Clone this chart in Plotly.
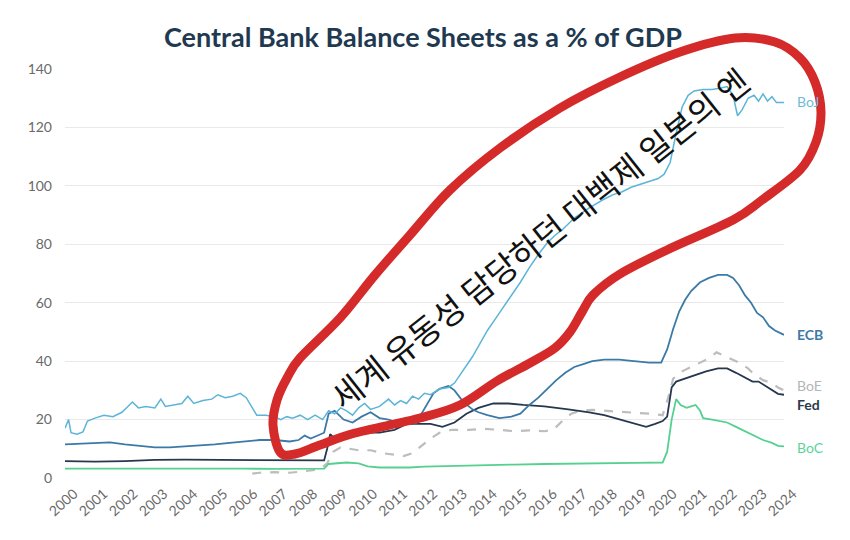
import plotly.graph_objects as go

# ---------------- data ----------------
boj_x = [2000.0, 2000.12, 2000.2, 2000.4, 2000.6, 2000.75, 2001.0, 2001.3, 2001.6, 2001.9, 2002.1, 2002.25,
         2002.45, 2002.7, 2003.0, 2003.2, 2003.35, 2003.6, 2003.9, 2004.1, 2004.3, 2004.6, 2004.9, 2005.1,
         2005.35, 2005.6, 2005.85, 2006.05, 2006.25, 2006.4, 2006.7, 2007.0, 2007.2, 2007.4, 2007.6, 2007.85,
         2008.1, 2008.35, 2008.6, 2008.8, 2009.0, 2009.2, 2009.4, 2009.6, 2009.8, 2010.0, 2010.2, 2010.5,
         2010.8, 2011.0, 2011.2, 2011.4, 2011.6, 2011.8, 2012.0, 2012.2, 2012.5, 2012.8, 2013.0, 2013.3,
         2013.6, 2013.85, 2014.1, 2014.4, 2014.7, 2014.95, 2015.2, 2015.5, 2015.8, 2016.1, 2016.35, 2016.6,
         2017.0, 2017.5, 2018.0, 2018.3, 2018.6, 2018.9, 2019.2, 2019.5, 2019.8, 2020.0, 2020.2,
         2020.4, 2020.6, 2020.8, 2021.0, 2021.3, 2021.6, 2021.9, 2022.1, 2022.3, 2022.45, 2022.6, 2022.8,
         2023.0, 2023.15, 2023.3, 2023.45, 2023.6, 2023.75, 2024.0]
boj_y = [17, 20, 15.5, 15, 15.8, 19.5, 20.5, 21.5, 21, 22.5, 24.5, 26,
         24, 24.5, 24, 27, 24.5, 25, 25.5, 28, 25.5, 26.5, 27, 28.5,
         27.5, 28, 29, 27.5, 24, 21.5, 21.5, 21, 20, 21, 20.5, 21.5,
         20, 21.5, 20, 23, 22, 24, 23, 21.5, 24, 25.5, 23.5, 24.5,
         27, 25, 26.5, 25.5, 28, 27, 29, 28.5, 30.5, 31, 32.5, 37,
         41.5, 46, 50.5, 55, 59.5, 63, 67, 72, 76.5, 80.5, 83, 85,
         89, 92.5, 95.5, 97, 98, 99.5, 100.5, 101.5, 102.5, 104, 108,
         118, 127, 131, 132.5, 133, 133, 133.5, 134, 131, 124, 126, 130,
         131, 129, 131.5, 129, 130.5, 128.5, 128.5]

ecb_x = [2000.0, 2000.5, 2001.0, 2001.5, 2002.0, 2002.5, 2003.0, 2003.5, 2004.0, 2004.5, 2005.0, 2005.5,
         2006.0, 2006.5, 2007.0, 2007.5, 2007.8, 2008.0, 2008.2, 2008.5, 2008.65, 2008.8, 2009.0, 2009.3,
         2009.6, 2009.9, 2010.2, 2010.5, 2010.8, 2011.1, 2011.4, 2011.7, 2011.9, 2012.1, 2012.3, 2012.5,
         2012.8, 2013.0, 2013.3, 2013.6, 2013.8, 2014.1, 2014.5, 2014.9, 2015.2, 2015.5, 2015.8, 2016.1,
         2016.4, 2016.7, 2017.0, 2017.3, 2017.6, 2018.0, 2018.5, 2019.0, 2019.5, 2019.9, 2020.1, 2020.3,
         2020.5, 2020.7, 2020.9, 2021.2, 2021.5, 2021.8, 2022.1, 2022.3, 2022.5, 2022.7, 2022.9, 2023.1,
         2023.3, 2023.5, 2023.7, 2024.0]
ecb_y = [11.5, 11.8, 12, 12.2, 11.5, 11, 10.5, 10.5, 10.8, 11, 11.5, 12,
         12.5, 13, 13, 12.5, 13, 14.5, 13.5, 15, 15.5, 22, 23, 20,
         19, 21, 22.5, 20.5, 20, 19, 19.5, 18.5, 22, 26, 29, 30.5,
         31.5, 30, 26, 23.5, 22.5, 21.5, 20.5, 21, 22, 25, 27.5, 30.5,
         33.5, 36, 38, 39, 40, 40.5, 40.5, 40, 39.5, 39.5, 44, 51,
         57, 61, 64, 67, 68.5, 69.5, 69.5, 68.5, 66, 62.5, 60, 56.5,
         55, 52, 50.5, 49]

fed_x = [2000, 2001, 2002, 2003, 2004, 2005, 2006, 2007, 2008.0, 2008.65, 2008.75, 2008.85,
         2009.0, 2009.2, 2009.6, 2010.0, 2010.5, 2011.0, 2011.4, 2011.8, 2012.2, 2012.6, 2013.0, 2013.4,
         2013.8, 2014.3, 2014.8, 2015.3, 2016.0, 2016.8, 2017.5, 2018.0, 2018.5, 2019.0, 2019.4, 2019.7,
         2019.95, 2020.1, 2020.25, 2020.4, 2020.7, 2021.0, 2021.4, 2021.8, 2022.1, 2022.4, 2022.7, 2022.95,
         2023.15, 2023.3, 2023.6, 2023.8, 2024.0]
fed_y = [5.8, 5.6, 5.8, 6.2, 6.3, 6.2, 6.1, 6.0, 6.0, 6.0, 10, 15,
         13.5, 14.5, 15.5, 15.5, 15.5, 16.5, 18.5, 18.5, 18.5, 17.5, 19, 22,
         24, 25.5, 25.5, 25, 24.5, 23.5, 22.5, 21.5, 20, 18.5, 17.5, 18.5,
         19.5, 21, 31, 33, 34, 35, 36.5, 37.5, 37.5, 36, 34.5, 33,
         33, 32, 30, 28.8, 28.5]

boe_x = [2006.25, 2006.5, 2007.0, 2007.5, 2007.9, 2008.2, 2008.5, 2008.75, 2008.95, 2009.2, 2009.5, 2009.8,
         2010.2, 2010.6, 2011.0, 2011.3, 2011.6, 2011.9, 2012.2, 2012.5, 2012.9, 2013.5, 2014.0, 2014.5,
         2015.0, 2015.5, 2016.0, 2016.3, 2016.6, 2016.9, 2017.2, 2017.6, 2018.0, 2018.5, 2019.0, 2019.5,
         2019.95, 2020.15, 2020.3, 2020.6, 2020.9, 2021.2, 2021.5, 2021.75, 2021.95, 2022.2, 2022.5, 2022.8,
         2023.0, 2023.3, 2023.6, 2023.8, 2024.0]
boe_y = [1.5, 1.8, 2.0, 1.8, 2.2, 2.5, 3, 5, 9, 10.5, 10, 9.5,
         9.5, 8.5, 8, 7.5, 8.5, 11, 13.5, 15.5, 16.5, 16.5, 16.8, 16.5,
         16, 16.3, 16, 16.5, 19.5, 22, 23, 23.3, 23, 22.8, 22.5, 22,
         21.5, 28, 34, 36.5, 38, 39.5, 41, 43, 42, 41, 39.5, 37.5,
         35.5, 33.5, 32.5, 31, 30]

boc_x = [2000, 2001, 2002, 2003, 2004, 2005, 2006, 2007, 2008.0, 2008.65, 2008.8, 2009.0,
         2009.4, 2009.8, 2010.1, 2010.5, 2011.0, 2011.5, 2012, 2013, 2014, 2015, 2016, 2017,
         2018, 2019, 2019.95, 2020.1, 2020.25, 2020.4, 2020.55, 2020.75, 2020.9, 2021.05, 2021.2, 2021.3,
         2021.6, 2021.9, 2022.1, 2022.4, 2022.7, 2023.0, 2023.3, 2023.6, 2023.8, 2024.0]
boc_y = [3.2, 3.2, 3.3, 3.4, 3.3, 3.3, 3.2, 3.1, 3.1, 3.2, 4.8, 5.0,
         5.3, 5.0, 4.0, 3.6, 3.5, 3.6, 3.9, 4.2, 4.4, 4.6, 4.8, 5.0,
         5.1, 5.2, 5.3, 9, 20, 27, 25, 24, 24.5, 25, 23, 20.5,
         20, 19.5, 19, 17.5, 16, 14.5, 13, 12, 11, 10.8]

year_ticks = list(range(2000, 2025))
y_ticks = [0, 20, 40, 60, 80, 100, 120, 140]

series_names = ["BoJ", "ECB", "Fed", "BoE", "BoC"]
label_y = [129, 49, 25, 31.5, 10.6]

# ---------------- styling ----------------
C_BOJ = "#5cb5d8"
C_ECB = "#3b7aa6"
C_FED = "#26384f"
C_BOE = "#bdbdbd"
C_BOC = "#55d08f"

OFF = 8  # page body margin added by the browser
W, H = 850, 540
PLOT_L, PLOT_T, PW, PH = 65, 69, 719, 409   # plot box in page pixels
L, T = PLOT_L - OFF, PLOT_T - OFF
R = W - L - PW
B = H - T - PH


def pp(x, y):
    """page pixel -> paper coordinates"""
    return (x - PLOT_L) / PW, (PLOT_T + PH - y) / PH


fig = go.Figure()
fig.add_trace(go.Scatter(x=boe_x, y=boe_y, mode="lines", line=dict(color=C_BOE, width=2.2, dash="dash"), name="BoE"))
fig.add_trace(go.Scatter(x=boc_x, y=boc_y, mode="lines", line=dict(color=C_BOC, width=1.8), name="BoC"))
fig.add_trace(go.Scatter(x=fed_x, y=fed_y, mode="lines", line=dict(color=C_FED, width=1.8), name="Fed"))
fig.add_trace(go.Scatter(x=ecb_x, y=ecb_y, mode="lines", line=dict(color=C_ECB, width=1.8), name="ECB"))
fig.add_trace(go.Scatter(x=boj_x, y=boj_y, mode="lines", line=dict(color=C_BOJ, width=1.5), name="BoJ"))

# right-hand labels
lab_colors = ["#6dbcdb", "#3d7aa8", "#2b3a4e", "#b5b5b5", "#5cd39a"]
lab_bold = [False, True, True, False, False]
annotations = []
for n, yv, c, b in zip(series_names, label_y, lab_colors, lab_bold):
    annotations.append(dict(xref="paper", yref="y", x=pp(795, 0)[0], y=yv, xanchor="left", yanchor="middle",
                            text=("<b>%s</b>" % n) if b else n, showarrow=False,
                            font=dict(family="Lato, Open Sans, sans-serif", size=14, color=c)))

# Korean handwritten-style note
kx, ky = pp(539, 238)
annotations.append(dict(xref="paper", yref="paper", x=kx, y=ky, xanchor="center", yanchor="middle",
                        text="세계 유동성 담당하던 대백제 일본의 엔", showarrow=False, textangle=-38.5,
                        font=dict(family="Noto Sans CJK KR", size=33, color="#111111")))

# red freehand loop
loop_px = [(280, 452), (273, 425), (277, 400), (287, 378), (300, 358), (340, 318), (375, 275), (410, 235),
           (450, 190), (500, 148), (560, 108), (620, 77), (680, 52), (735, 38), (775, 42), (800, 58),
           (815, 82), (821, 112), (816, 142), (800, 170), (762, 200), (733, 220), (667, 250), (620, 274),
           (593, 295), (582, 312), (570, 332), (555, 348), (530, 363), (497, 381), (460, 405), (420, 418),
           (355, 433), (320, 445), (295, 454)]
pts = [pp(x, y) for x, y in loop_px]
n = len(pts)
d = "M %.5f,%.5f" % pts[0]
for i in range(n):
    p0, p1, p2, p3 = pts[(i - 1) % n], pts[i], pts[(i + 1) % n], pts[(i + 2) % n]
    c1 = (p1[0] + (p2[0] - p0[0]) / 6, p1[1] + (p2[1] - p0[1]) / 6)
    c2 = (p2[0] - (p3[0] - p1[0]) / 6, p2[1] - (p3[1] - p1[1]) / 6)
    d += " C %.5f,%.5f %.5f,%.5f %.5f,%.5f" % (c1[0], c1[1], c2[0], c2[1], p2[0], p2[1])

shapes = [
    dict(type="path", xref="paper", yref="paper", path=d, line=dict(color="#d42a2a", width=9), layer="above"),
]

fig.update_layout(
    width=W, height=H,
    margin=dict(l=L, r=R, t=T, b=B),
    paper_bgcolor="white", plot_bgcolor="white",
    showlegend=False,
    title=dict(text="<b>Central Bank Balance Sheets as a % of GDP</b>", x=pp(423, 0)[0], xref="paper",
               xanchor="center", y=1 - (38 - OFF) / H, yanchor="middle",
               font=dict(family="Lato, Open Sans, sans-serif", size=27, color="#1f3a50")),
    xaxis=dict(range=[2000, 2024], tickmode="array", tickvals=year_ticks,
               ticktext=[str(v) for v in year_ticks], tickangle=-42,
               showgrid=False, zeroline=False, showline=False, ticks="",
               ticklabelshift=9, ticklabelstandoff=4,
               tickfont=dict(family="Lato, Open Sans, sans-serif", size=14, color="#6a6a6a")),
    yaxis=dict(range=[0, 140], tickmode="array", tickvals=y_ticks, showgrid=True, gridcolor="#e9e9e9",
               gridwidth=1, zeroline=False, showline=False, ticks="", ticklabelstandoff=12,
               tickfont=dict(family="Lato, Open Sans, sans-serif", size=14, color="#6a6a6a")),
    annotations=annotations,
    shapes=shapes,
)

fig.write_html("out.html")
